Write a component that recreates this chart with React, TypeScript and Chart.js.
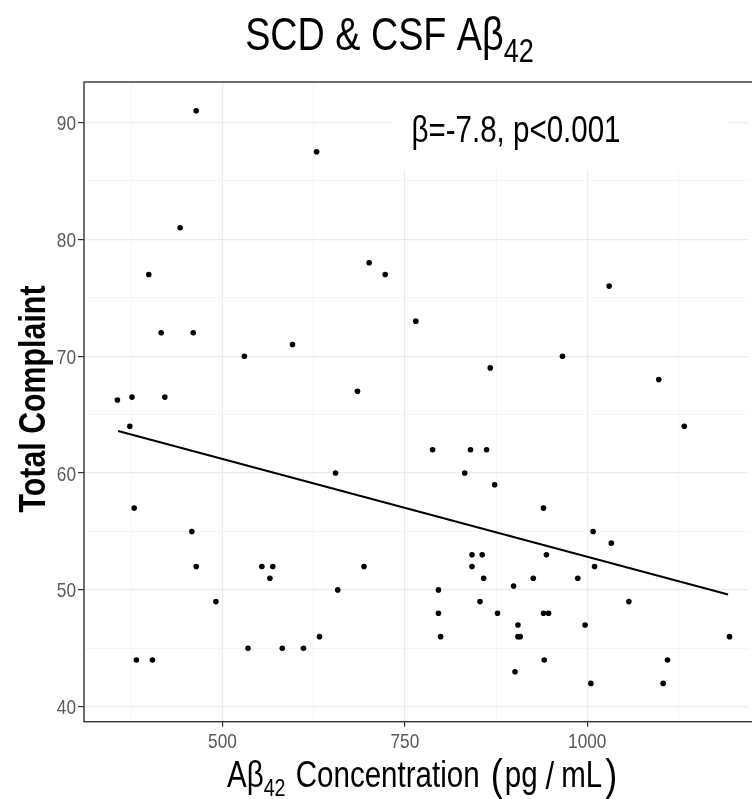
import React, { useEffect, useRef } from 'react';
import { Chart, registerables } from 'chart.js';

Chart.register(...registerables);

// ---- data ----
const xValues = [
  464, 442, 399, 416, 460, 530, 596, 629, 701, 723,
  765, 867, 1030, 966, 1098, 356, 376, 421, 373, 379,
  458, 464, 554, 569, 565, 491, 535, 582, 611, 382,
  404, 685, 788, 840, 862, 655, 832, 873, 842, 856,
  842, 694, 858, 899, 658, 796, 796, 853, 877, 799,
  633, 905, 905, 908, 901, 1133, 940, 1008, 1033, 944,
  1010, 926, 987, 1057, 940, 947, 997, 941, 1110, 1005,
  1104, 1195,
];
const yValues = [
  91, 81, 77, 72, 72, 70, 71, 87.5, 78, 77,
  73, 69, 76, 70, 68, 66.25, 66.5, 66.5, 64, 57,
  55, 52, 52, 52, 51, 49, 45, 45, 45, 44,
  44, 67, 62, 62, 62, 60, 60, 59, 53, 53,
  52, 52, 51, 50.33, 50, 50, 48, 49, 48, 46,
  46, 47, 46, 46, 43, 64, 57, 55, 54, 53,
  52, 51, 51, 49, 48, 48, 47, 44, 44, 42,
  42, 46,
];
const fitX = [357, 1193];
const fitY = [63.6, 49.6];

const xMajorTicks = [500, 750, 1000];
const xMinorTicks = [375, 625, 875, 1125];
const yMajorTicks = [40, 50, 60, 70, 80, 90];
const yMinorTicks = [45, 55, 65, 75, 85];

const xRange = [310.2, 1220.3];
const yRange = [38.72, 93.47];

const titleMain = 'SCD & CSF A\u03b2';
const titleSub = '42';
const annotationText = '\u03b2=-7.8, p<0.001';
const yTitle = 'Total Complaint';
const xTitleParts = ['A\u03b2', '42', ' Concentration ', '(', 'pg', '/', 'mL', ')'];

const FONT = '"Liberation Sans", Arial, sans-serif';
const SX = 0.82; // horizontal condensing to mimic a narrow face

type Part = { text: string; size: number; dy?: number; gap?: number; bold?: boolean; color?: string };

function fillScaled(ctx: CanvasRenderingContext2D, text: string, x: number, y: number) {
  ctx.save();
  ctx.translate(x, y);
  ctx.scale(SX, 1);
  ctx.fillText(text, 0, 0);
  ctx.restore();
}

function drawParts(ctx: CanvasRenderingContext2D, parts: Part[], x0: number, baseline: number, align: 'left' | 'center') {
  const widths = parts.map((p) => {
    ctx.font = `${p.bold ? 'bold ' : ''}${p.size}px ${FONT}`;
    return ctx.measureText(p.text).width * SX;
  });
  let total = 0;
  parts.forEach((p, i) => { total += widths[i] + (p.gap || 0); });
  let x = align === 'center' ? x0 - total / 2 : x0;
  ctx.textAlign = 'left';
  ctx.textBaseline = 'alphabetic';
  parts.forEach((p, i) => {
    ctx.font = `${p.bold ? 'bold ' : ''}${p.size}px ${FONT}`;
    ctx.fillStyle = p.color || '#000';
    fillScaled(ctx, p.text, x, baseline + (p.dy || 0));
    x += widths[i] + (p.gap || 0);
  });
}

const decorPlugin = {
  id: 'decor',
  beforeDatasetsDraw(chart: any) {
    const ctx = chart.ctx as CanvasRenderingContext2D;
    const area = chart.chartArea;
    ctx.save();
    ctx.fillStyle = '#ffffff';
    ctx.fillRect(391, area.top, 728 - 391, 170 - area.top);
    ctx.fillStyle = '#000';
    ctx.font = `36px ${FONT}`;
    ctx.textAlign = 'center';
    ctx.textBaseline = 'alphabetic';
    fillScaled(ctx, annotationText, 516, 142);
    ctx.restore();
  },
  afterDraw(chart: any) {
    const ctx = chart.ctx as CanvasRenderingContext2D;
    const area = chart.chartArea;
    const xs = chart.scales.x;
    const ys = chart.scales.y;
    ctx.save();
    // panel border
    ctx.strokeStyle = '#333333';
    ctx.lineWidth = 1.4;
    ctx.strokeRect(area.left, area.top, area.right - area.left + 20, area.bottom - area.top);

    // tick labels
    ctx.fillStyle = '#595959';
    ctx.font = `21px ${FONT}`;
    ctx.textBaseline = 'alphabetic';
    ctx.textAlign = 'center';
    xMajorTicks.forEach((v) => {
      fillScaled(ctx, String(v), xs.getPixelForValue(v), 748);
    });
    ctx.textAlign = 'right';
    yMajorTicks.forEach((v) => {
      fillScaled(ctx, String(v), 76, ys.getPixelForValue(v) + 7.5);
    });

    // title
    drawParts(ctx, [
      { text: titleMain, size: 46 },
      { text: titleSub, size: 33, dy: 12 },
    ], 389.5, 50, 'center');

    // x axis title
    drawParts(ctx, [
      { text: xTitleParts[0], size: 36 },
      { text: xTitleParts[1], size: 24, dy: 9, gap: 2 },
      { text: xTitleParts[2], size: 36, gap: 3 },
      { text: xTitleParts[3], size: 44, dy: 3, gap: 2 },
      { text: xTitleParts[4], size: 36, gap: 8 },
      { text: xTitleParts[5], size: 38, dy: 2, gap: 7 },
      { text: xTitleParts[6], size: 36, gap: 3 },
      { text: xTitleParts[7], size: 44, dy: 3 },
    ], 227, 786.5, 'left');

    // y axis title
    ctx.translate(45, 399);
    ctx.rotate(-Math.PI / 2);
    ctx.font = `bold 37px ${FONT}`;
    ctx.fillStyle = '#000';
    ctx.textAlign = 'center';
    ctx.textBaseline = 'alphabetic';
    fillScaled(ctx, yTitle, 0, 0);
    ctx.restore();
  },
};

export default function App() {
  const canvasRef = useRef<HTMLCanvasElement | null>(null);

  useEffect(() => {
    if (!canvasRef.current) return;
    const points = xValues.map((x, i) => ({ x, y: yValues[i] }));
    const fit = fitX.map((x, i) => ({ x, y: fitY[i] }));
    const isMajorX = (v: number) => xMajorTicks.includes(v);
    const isMajorY = (v: number) => yMajorTicks.includes(v);

    const chart = new Chart(canvasRef.current, {
      type: 'scatter',
      data: {
        datasets: [
          {
            type: 'line',
            data: fit,
            borderColor: '#000',
            borderWidth: 2,
            pointRadius: 0,
            fill: false,
          } as any,
          {
            type: 'scatter',
            data: points,
            backgroundColor: '#000',
            borderWidth: 0,
            pointRadius: 2.8,
          },
        ],
      },
      options: {
        responsive: false,
        animation: false,
        devicePixelRatio: 1,
        layout: { padding: { top: 82, left: 0, right: 0, bottom: 0 } },
        plugins: {
          legend: { display: false },
          tooltip: { enabled: false },
          title: { display: false },
        },
        scales: {
          x: {
            type: 'linear',
            min: xRange[0],
            max: xRange[1],
            afterBuildTicks: (axis: any) => {
              axis.ticks = [...xMinorTicks, ...xMajorTicks].sort((a, b) => a - b).map((v) => ({ value: v }));
            },
            afterFit: (scale: any) => { scale.height = 799 - 721.7; },
            border: { display: false },
            grid: {
              color: (c: any) => (isMajorX(c.tick?.value) ? '#EBEBEB' : '#F2F2F2'),
              lineWidth: (c: any) => (isMajorX(c.tick?.value) ? 1.2 : 0.8),
              tickColor: (c: any) => (isMajorX(c.tick?.value) ? '#333333' : 'rgba(0,0,0,0)'),
              tickLength: 5,
              tickWidth: 1.2,
              drawTicks: true,
            },
            ticks: { display: false, autoSkip: false, maxRotation: 0 },
          },
          y: {
            type: 'linear',
            min: yRange[0],
            max: yRange[1],
            afterBuildTicks: (axis: any) => {
              axis.ticks = [...yMinorTicks, ...yMajorTicks].sort((a, b) => a - b).map((v) => ({ value: v }));
            },
            afterFit: (scale: any) => { scale.width = 84; },
            border: { display: false },
            grid: {
              color: (c: any) => (isMajorY(c.tick?.value) ? '#EBEBEB' : '#F2F2F2'),
              lineWidth: (c: any) => (isMajorY(c.tick?.value) ? 1.2 : 0.8),
              tickColor: (c: any) => (isMajorY(c.tick?.value) ? '#333333' : 'rgba(0,0,0,0)'),
              tickLength: 6,
              tickWidth: 1.2,
              drawTicks: true,
            },
            ticks: { display: false, autoSkip: false },
          },
        },
      },
      plugins: [decorPlugin],
    } as any);

    return () => chart.destroy();
  }, []);

  return (
    <div style={{ position: 'fixed', left: 0, top: 0, width: 752, height: 799, background: '#fff', overflow: 'hidden' }}>
      <canvas ref={canvasRef} width={752} height={799} style={{ display: 'block', width: 752, height: 799 }} />
    </div>
  );
}
